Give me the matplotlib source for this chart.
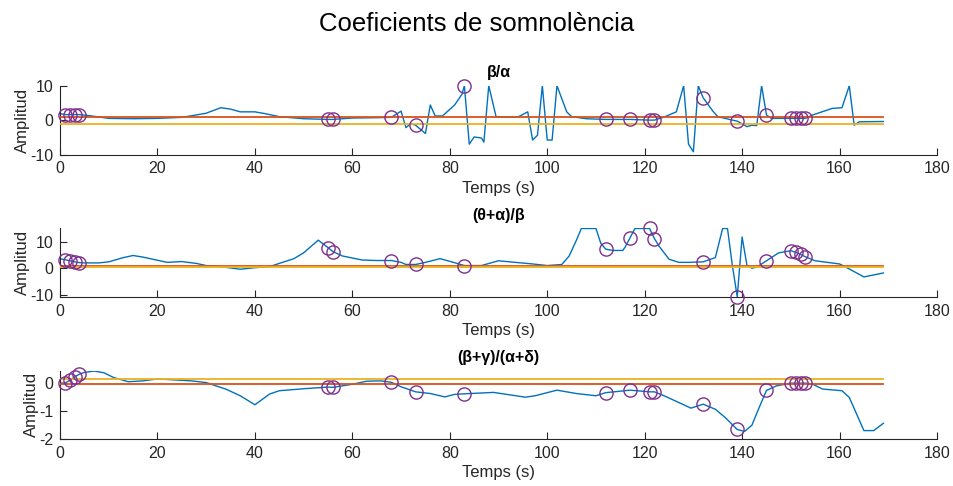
import numpy as np
import matplotlib
matplotlib.use("Agg")
import matplotlib.pyplot as plt

plt.rcParams['font.family'] = ['Liberation Sans', 'DejaVu Sans']
plt.rcParams['axes.unicode_minus'] = False

# Event times (s) marked with circles on every coefficient trace
event_times = [1, 2, 3, 4, 55, 56, 68, 73, 83, 112, 117, 121, 122, 132, 139, 145, 150, 151, 152, 153]

# beta / alpha
t_ba = [0, 1, 2, 3, 4, 6, 10, 15, 20, 25, 28, 30, 33, 35, 37, 40, 42, 45, 50, 55, 56, 60, 65, 68,
        70, 71, 72, 73, 75, 76, 77, 78.5, 81, 82.5, 83, 84, 85, 86.5, 87, 88, 89.5, 92, 94, 96, 97,
        98, 99, 100, 101, 102, 104, 105, 108, 112, 117, 121, 122, 124, 126.5, 128, 129, 130, 131,
        132, 134, 135, 138, 139, 141, 142, 143, 144, 145, 146, 150, 151, 152, 153, 154.5, 158.5,
        160.5, 162, 163, 164, 169]
v_ba = [1.9, 1.6, 1.6, 1.6, 1.6, 1.3, 0.5, 0.4, 0.5, 0.8, 1.5, 2.0, 3.6, 3.2, 2.4, 2.4, 1.9, 1.0,
        0.4, 0.2, 0.2, 0.6, 0.7, 0.8, 2.6, -2.2, -1.0, -1.5, -3.9, 4.4, 1.2, 1.2, 4.4, 7.5, 10.0,
        -7.0, -4.9, -5.2, -6.4, 10.0, 1.0, 0.8, 0.9, 2.4, -5.8, -4.4, 10.0, -5.8, -5.8, 10.0, 2.4,
        1.0, 0.4, 0.2, 0.2, 0.0, 0.0, 0.9, 2.4, 10.0, -7.0, -9.2, 10.0, 6.5, 2.6, 1.0, 0.0, -0.3,
        -1.9, -1.5, -1.6, 10.0, 1.5, 0.5, 0.5, 0.5, 0.5, 0.5, 1.5, 3.4, 3.6, 10.0, -1.5, -0.5, -0.4]
thr_ba = [1.0, -1.1]

# (theta + alpha) / beta
t_tab = [0, 1, 2, 3, 4, 5, 8, 10, 13, 15, 17, 20, 22, 25, 28, 30, 33, 37, 40, 43, 45, 48, 50, 53,
         55, 56, 58, 62, 65, 68, 70, 71, 73, 75, 78, 80, 83, 86.5, 90, 93.5, 97, 100, 103, 104.5,
         106, 107, 110, 111, 112, 113.5, 115.5, 116, 117, 118, 120, 121, 122, 123, 125, 127, 129,
         132, 134.5, 136, 137, 138, 139, 140, 141, 142, 143, 145, 147.5, 150, 151, 152, 153, 155,
         160, 161, 165, 169]
v_tab = [3.6, 3.2, 2.8, 2.4, 2.1, 2.0, 2.0, 2.4, 4.0, 4.8, 4.2, 3.0, 2.2, 2.5, 1.8, 1.0, 0.6, -0.4,
         0.2, 0.6, 1.8, 3.6, 5.8, 10.6, 7.8, 6.3, 4.6, 3.1, 2.9, 2.9, 2.2, 1.4, 1.4, 2.2, 3.6, 2.6,
         1.0, 1.0, 2.8, 2.2, 1.6, 1.0, 1.4, 4.6, 10.6, 15.0, 15.0, 9.4, 7.2, 6.7, 6.7, 8.0, 11.5,
         15.0, 15.0, 15.0, 11.2, 8.2, 3.4, 2.2, 2.2, 2.4, 4.0, 15.0, 15.0, 1.0, -10.8, 11.8, 1.0,
         0.0, 0.4, 2.8, 5.8, 6.6, 6.0, 5.2, 4.3, 2.8, 1.6, 0.7, -3.3, -1.8]
thr_tab = [0.9, 0.4]

# (beta + gamma) / (alpha + delta)
t_bg = [0, 1, 2, 3, 4, 5, 7, 9, 11, 14, 17, 20, 23, 27, 30, 34, 37, 40, 43, 45, 50, 55, 56, 60, 63,
        66, 68, 70, 73, 76, 79, 81, 83, 89, 95.5, 97.5, 102, 106, 110, 112, 117, 121, 122, 124,
        127, 129.5, 132, 134.5, 136.5, 139, 140.5, 142, 143.5, 145, 147, 150, 151, 152, 153, 154.5,
        156.5, 160.5, 162, 165, 167, 169]
v_bg = [0.0, 0.0, 0.1, 0.22, 0.32, 0.38, 0.43, 0.37, 0.2, 0.05, 0.08, 0.15, 0.12, 0.08, 0.02, -0.21,
        -0.45, -0.77, -0.39, -0.27, -0.2, -0.14, -0.15, -0.04, 0.07, 0.08, 0.03, -0.13, -0.31, -0.37,
        -0.49, -0.4, -0.38, -0.33, -0.5, -0.45, -0.25, -0.37, -0.45, -0.34, -0.25, -0.31, -0.31,
        -0.45, -0.69, -0.89, -0.75, -0.93, -1.22, -1.65, -1.72, -1.5, -0.87, -0.26, -0.1, 0.0, 0.0,
        0.0, 0.0, -0.04, -0.21, -0.27, -0.51, -1.69, -1.69, -1.43]
thr_bg = [0.15, -0.03]

titles = ['β/α', '(θ+α)/β', '(β+γ)/(α+δ)']
ylims = [(-10, 10), (-11, 15), (-2, 0.45)]
yticks = [[-10, 0, 10], [-10, 0, 10], [-2, -1, 0]]
xticks = list(range(0, 181, 20))

BLUE = '#0072BD'
ORANGE = '#D95319'
YELLOW = '#EDB120'
PURPLE = '#7E2F8E'
AXC = '#262626'

series = [(t_ba, v_ba, thr_ba, (ORANGE, YELLOW)),
          (t_tab, v_tab, thr_tab, (ORANGE, YELLOW)),
          (t_bg, v_bg, thr_bg, (YELLOW, ORANGE))]

fig = plt.figure(figsize=(9.54, 4.86), dpi=100)
W, H = 954, 486
left, width = 60 / W, 877 / W
bottoms = [1 - 154.5 / H, 1 - 297.3 / H, 1 - 439.3 / H]
height = 68.8 / H

for i, (t, v, thr, cols) in enumerate(series):
    ax = fig.add_axes([left, bottoms[i], width, height])
    t = np.asarray(t, float)
    v = np.asarray(v, float)
    ax.plot(t, v, color=BLUE, lw=1.0, zorder=2)
    for level, c in zip(thr, cols):
        ax.plot([t[0], t[-1]], [level, level], color=c, lw=1.3, zorder=3)
    idx = [int(np.where(t == e)[0][0]) for e in event_times]
    ax.plot(t[idx], v[idx], 'o', mfc='none', mec=PURPLE, ms=9.5, mew=1.0, zorder=4, clip_on=False)

    ax.set_xlim(0, 180)
    ax.set_ylim(*ylims[i])
    ax.set_xticks(xticks)
    ax.set_yticks(yticks[i])
    for s in ['top', 'right']:
        ax.spines[s].set_visible(False)
    for s in ['left', 'bottom']:
        ax.spines[s].set_color(AXC)
        ax.spines[s].set_linewidth(0.8)
    ax.tick_params(direction='in', length=5, width=0.8, colors=AXC, labelsize=11.5, pad=5)
    ax.set_title(titles[i], fontsize=11.5, fontweight='bold', color='black', pad=6)
    ax.set_xlabel('Temps (s)', fontsize=12, color=AXC, labelpad=3)
    ax.set_ylabel('Amplitud', fontsize=12, color=AXC, labelpad=0)

fig.suptitle('Coeficients de somnolència', fontsize=18.5, y=0.975, color='black')
fig.savefig('out.png', dpi=100)
